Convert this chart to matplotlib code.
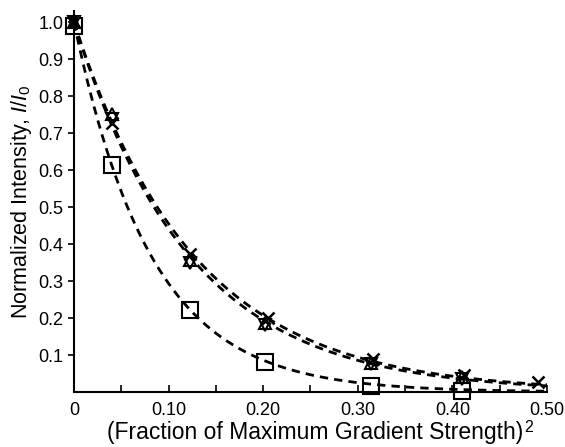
import numpy as np
import matplotlib
matplotlib.use("Agg")
import matplotlib.pyplot as plt
from matplotlib.ticker import MultipleLocator

plt.rcParams['font.family'] = ['Liberation Sans', 'DejaVu Sans']
plt.rcParams['mathtext.fontset'] = 'custom'
plt.rcParams['mathtext.rm'] = 'Liberation Sans'
plt.rcParams['mathtext.it'] = 'Liberation Sans:italic'

# data
x_sq = [0.0, 0.040, 0.123, 0.202, 0.314, 0.410]
y_sq = [0.99, 0.615, 0.222, 0.082, 0.016, 0.004]

x_tu = [0.0, 0.040, 0.123, 0.202, 0.314, 0.410]
y_tu = [1.0, 0.752, 0.358, 0.188, 0.078, 0.040]

x_td = [0.0, 0.040, 0.123, 0.202, 0.314, 0.410]
y_td = [1.0, 0.738, 0.350, 0.180, 0.076, 0.036]

x_x = [0.0, 0.040, 0.123, 0.205, 0.316, 0.412, 0.491]
y_x = [1.0, 0.728, 0.372, 0.200, 0.090, 0.046, 0.028]

xticks = [0, 0.10, 0.20, 0.30, 0.40, 0.50]
xticklabels = ["0", "0.10", "0.20", "0.30", "0.40", "0.50"]
yticks = [0.1, 0.2, 0.3, 0.4, 0.5, 0.6, 0.7, 0.8, 0.9, 1.0]


def fit_k(xs, ys):
    ks = np.linspace(1, 20, 3801)
    xs = np.asarray(xs); ys = np.asarray(ys)
    err = [np.sum((np.exp(-k * xs) - ys) ** 2) for k in ks]
    return ks[int(np.argmin(err))]


fig = plt.figure(figsize=(5.65, 4.47), dpi=100)
ax = fig.add_axes([0.131, 0.123, 0.837, 0.852])

xf = np.linspace(0, 0.5, 300)
for xs, ys in [(x_sq, y_sq), (x_tu + x_td, y_tu + y_td), (x_x, y_x)]:
    k = fit_k(xs, ys)
    ax.plot(xf, np.exp(-k * xf), ls=(0, (3, 2.2)), color='black', lw=2.0)

ax.plot(x_sq, y_sq, ls='none', marker='s', ms=11, mfc='none', mec='black', mew=1.5, clip_on=False)
ax.plot(x_tu, y_tu, ls='none', marker='^', ms=8, mfc='none', mec='black', mew=1.5, clip_on=False)
ax.plot(x_td, y_td, ls='none', marker='v', ms=8, mfc='none', mec='black', mew=1.5, clip_on=False)
ax.plot(x_x, y_x, ls='none', marker='x', ms=8, mfc='none', mec='black', mew=1.8, clip_on=False)

ax.set_xlim(0, 0.5)
ax.set_ylim(0, 1.03)
ax.spines['top'].set_visible(False)
ax.spines['right'].set_visible(False)
ax.spines['left'].set_linewidth(1.5)
ax.spines['bottom'].set_linewidth(1.5)

ax.set_xticks(xticks)
ax.set_xticklabels(xticklabels)
ax.xaxis.set_minor_locator(MultipleLocator(0.05))
ax.set_yticks(yticks)
ax.set_yticklabels([f"{v:.1f}" for v in yticks])
ax.tick_params(axis='x', which='both', direction='in', length=5, width=1.2, labelsize=13, pad=7)
ax.tick_params(axis='y', direction='out', length=4, width=1.2, labelsize=13)

xl = ax.set_xlabel("(Fraction of Maximum Gradient Strength)", fontsize=16.5)
ax.xaxis.set_label_coords(0.51, -0.075)
ax.annotate("2", xy=(1.0, 1.0), xycoords=xl, xytext=(1, 0.5), textcoords='offset points',
            fontsize=11.5, ha='left', va='top')
ax.set_ylabel("Normalized Intensity, $I/I_0$", fontsize=15.5, labelpad=3)

fig.savefig("out.png", dpi=100)
